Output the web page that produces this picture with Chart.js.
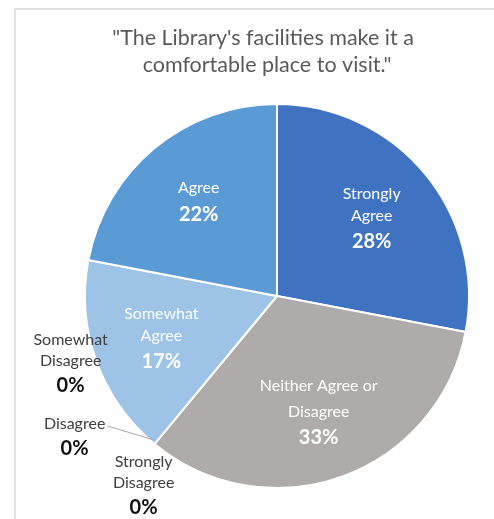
<!DOCTYPE html>
<html>
<head>
<meta charset="utf-8">
<script src="https://cdn.jsdelivr.net/npm/chart.js@4/dist/chart.umd.min.js"></script>
<style>
  html, body { margin: 0; padding: 0; background: #fff; }
  #wrap { position: relative; width: 494px; height: 519px; overflow: hidden; }
  #frame { position: absolute; left: 14px; top: 8px; width: 600px; height: 600px;
           border-left: 2px solid #e3e3e3; border-top: 2px solid #e3e3e3; }
  canvas { position: absolute; left: 0; top: 0; }
</style>
</head>
<body>
<div id="wrap">
  <div id="frame"></div>
  <canvas id="pieChart" width="494" height="519"></canvas>
</div>
<script>
// Survey answers, clockwise from 12 o'clock
const titleLines = ['"The Library\'s facilities make it a', 'comfortable place to visit."'];
const categories = ["Strongly Agree", "Neither Agree or Disagree", "Strongly Disagree",
                    "Disagree", "Somewhat Disagree", "Somewhat Agree", "Agree"];
const percents = [28, 33, 0, 0, 0, 17, 22];
const labelLines = [["Strongly", "Agree"], ["Neither Agree or", "Disagree"], ["Strongly", "Disagree"],
                    ["Disagree"], ["Somewhat", "Disagree"], ["Somewhat", "Agree"], ["Agree"]];
const colors = ["#4072c2", "#aeabaa", "#a5a5a5", "#7f7f7f", "#c0c0c0", "#9dc3e6", "#5b9bd5"];

const FONT = "Lato, 'Open Sans', sans-serif";

// where the zero-slice labels sit, relative to the point on the rim
const outsideOffsets = { 2: [-11, 18], 3: [-80, -20], 4: [-84, -104] };

const labelPlugin = {
  id: "sliceLabels",
  afterDraw(chart) {
    const ctx = chart.ctx;
    ctx.save();
    ctx.textAlign = "center";
    ctx.textBaseline = "middle";

    // title
    ctx.fillStyle = "#595959";
    ctx.font = "21.5px " + FONT;
    ctx.fillText(titleLines[0], 263, 38);
    ctx.fillText(titleLines[1], 267, 65);

    const arcs = chart.getDatasetMeta(0).data;
    arcs.forEach((arc, i) => {
      const p = arc.getProps(["x", "y", "startAngle", "endAngle", "outerRadius"], true);
      const mid = (p.startAngle + p.endAngle) / 2;
      const lines = labelLines[i];
      if (percents[i] > 0) {
        const r = p.outerRadius * 0.64;
        const cx = p.x + Math.cos(mid) * r;
        const cy = p.y + Math.sin(mid) * r;
        const step = i === 1 ? 26 : 22;
        const total = (lines.length - 1) * step + 26;
        let y = cy - total / 2;
        ctx.fillStyle = "#ffffff";
        ctx.font = "16px " + FONT;
        lines.forEach((t) => { ctx.fillText(t, cx, y); y += step; });
        y += 26 - step;
        ctx.font = "bold 20px " + FONT;
        ctx.fillText(percents[i] + "%", cx, y);
      } else {
        const ex = p.x + Math.cos(mid) * p.outerRadius;
        const ey = p.y + Math.sin(mid) * p.outerRadius;
        const off = outsideOffsets[i];
        const cx = ex + off[0];
        let y = ey + off[1];
        ctx.fillStyle = "#404040";
        ctx.font = "16px " + FONT;
        lines.forEach((t, k) => {
          ctx.fillText(t, cx, y);
          if (i === 3 && k === 0) {
            // leader line from the label to the rim
            const w = ctx.measureText(t).width;
            ctx.strokeStyle = "#a6a6a6";
            ctx.lineWidth = 1;
            ctx.beginPath();
            ctx.moveTo(cx + w / 2 + 2, y + 2);
            ctx.lineTo(ex - 1, ey - 4);
            ctx.stroke();
          }
          y += 21;
        });
        y += 4;
        ctx.fillStyle = "#111111";
        ctx.font = "bold 20px " + FONT;
        ctx.fillText(percents[i] + "%", cx, y);
      }
    });
    ctx.restore();
  }
};

new Chart(document.getElementById("pieChart").getContext("2d"), {
  type: "pie",
  data: {
    labels: categories,
    datasets: [{
      data: percents,
      backgroundColor: colors,
      borderColor: "#ffffff",
      borderWidth: 2
    }]
  },
  options: {
    responsive: false,
    animation: false,
    layout: { padding: { top: 103, bottom: 30, left: 84, right: 24 } },
    plugins: {
      legend: { display: false },
      tooltip: { enabled: false },
      title: { display: false }
    }
  },
  plugins: [labelPlugin]
});
</script>
</body>
</html>
